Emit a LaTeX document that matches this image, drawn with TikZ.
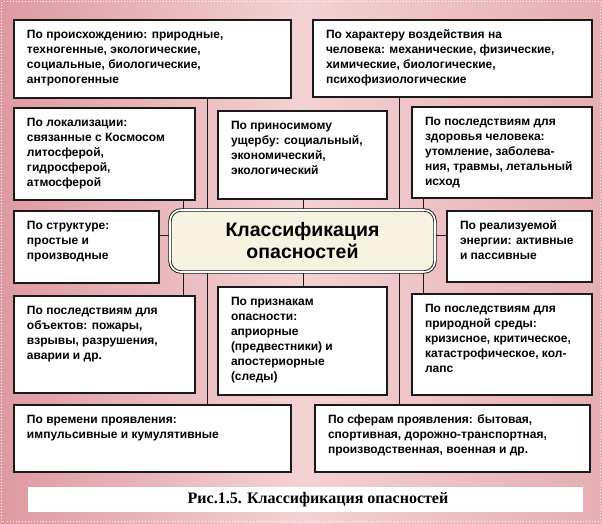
\documentclass[tikz,border=0pt]{standalone}
\usepackage{fontspec}
\setmainfont{Liberation Sans}
\newfontfamily\capfont{Liberation Serif}
\usetikzlibrary{calc}
\pgfdeclarelayer{bgfill}
\pgfdeclarelayer{lines}
\pgfsetlayers{bgfill,lines,main}
\definecolor{pinkL}{HTML}{DE9AA2}
\definecolor{pinkM}{HTML}{F3D2D3}
\definecolor{pinkR}{HTML}{E6AEB3}
\definecolor{boxline}{HTML}{1A1A1A}
\definecolor{cream}{HTML}{F6F3E2}
\tikzset{
  infobox/.style={draw=boxline, line width=2.4pt, fill=white, anchor=north west,
    inner xsep=13pt, inner ysep=8pt, outer sep=0pt,
    font=\fontsize{12}{15}\selectfont\bfseries},
  centernode/.style={draw=boxline, double=white, double distance=1.6pt, line width=0.9pt,
    rounded corners=11pt, fill=cream, anchor=north west, outer sep=0pt,
    minimum width=265pt, minimum height=62pt, align=center,
    font=\fontsize{19.5}{22}\selectfont\bfseries},
  conn/.style={draw=boxline, line width=1pt},
  captext/.style={font=\capfont\fontsize{16}{18}\selectfont\bfseries, inner sep=0pt}
}
\newcommand\mybox[6]{%
  \node[infobox, minimum width=#4pt, minimum height=#5pt] (#1) at (#2,#3)
   {\parbox[t][\dimexpr#5pt-16pt\relax][t]{\dimexpr#4pt-26pt\relax}{\raggedright\strut #6}};}
\begin{document}
\begin{tikzpicture}[x=1pt,y=-1pt]
\useasboundingbox (0,0) rectangle (602,523);
\begin{pgfonlayer}{bgfill}
  \shade[left color=pinkL, right color=pinkR, middle color=pinkM] (0,0) rectangle (602,523);
  \draw[white, line width=1pt, dotted] (1.5,1.5) rectangle (600.5,521.5);
  \fill[white] (28,487) rectangle (583,512);
\end{pgfonlayer}

% boxes
\mybox{b1}{14}{20}{277}{78}{По происхождению: природные,\\техногенные, экологические,\\социальные, биологические,\\антропогенные}
\mybox{b2}{313}{20}{279}{77}{По характеру воздействия на\\человека: механические, физические,\\химические, биологические,\\психофизиологические}
\mybox{b3}{14}{108}{181}{92}{По локализации:\\связанные с Космосом\\литосферой,\\гидросферой,\\атмосферой}
\mybox{b4}{14}{211}{145}{72}{По структуре:\\простые и\\производные}
\mybox{b5}{218}{111}{169}{88}{По приносимому\\ущербу: социальный,\\экономический,\\экологический}
\mybox{b6}{412}{107}{180}{91}{По последствиям для\\здоровья человека:\\утомление, заболева-\\ния, травмы, летальный\\исход}
\mybox{b7}{447}{211}{145}{71}{По реализуемой\\энергии: активные\\и пассивные}
\mybox{b9}{14}{296}{181}{97}{По последствиям для\\объектов: пожары,\\взрывы, разрушения,\\аварии и др.}
\mybox{b10}{218}{287}{169}{108}{По признакам\\опасности:\\априорные\\(предвестники) и\\апостериорные\\(следы)}
\mybox{b11}{412}{294}{180}{101}{По последствиям для\\природной среды:\\кризисное, критическое,\\катастрофическое, кол-\\лапс}
\mybox{b12}{14}{405}{277}{67}{По времени проявления:\\импульсивные и кумулятивные}
\mybox{b13}{315}{405}{275}{67}{По сферам проявления: бытовая,\\спортивная, дорожно-транспортная,\\производственная, военная и др.}

\node[centernode] (c) at (170,210) {Классификация\\опасностей};

\node[captext] (cap) at (318,500) {Рис.1.5. Классификация опасностей};

% connector guide coordinates
\coordinate (xL) at (207,0);
\coordinate (xR) at (399,0);
\coordinate (xa) at (183,0);
\coordinate (xb) at (303,0);
\coordinate (xc) at (423,0);
\coordinate (yh) at (0,235);

\begin{pgfonlayer}{lines}
  \draw[conn] (b1.south -| xL) -- (b12.north -| xL);
  \draw[conn] (b2.south -| xR) -- (b13.north -| xR);
  \draw[conn] (b3.south -| xa) -- (c.north -| xa);
  \draw[conn] (c.south -| xa) -- (b9.north -| xa);
  \draw[conn] (b5.south -| xb) -- (c.north -| xb);
  \draw[conn] (c.south -| xb) -- (b10.north -| xb);
  \draw[conn] (b6.south -| xc) -- (c.north -| xc);
  \draw[conn] (c.south -| xc) -- (b11.north -| xc);
  \draw[conn] (b4.east |- yh) -- (c.west |- yh);
  \draw[conn] (c.east |- yh) -- (b7.west |- yh);
\end{pgfonlayer}
\end{tikzpicture}
\end{document}
